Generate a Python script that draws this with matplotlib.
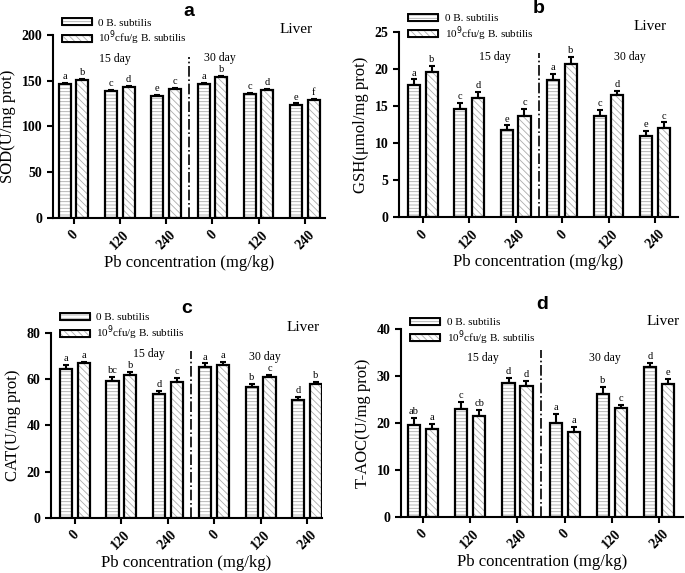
import matplotlib
matplotlib.use("Agg")
import matplotlib.pyplot as plt
from matplotlib.patches import Patch
import numpy as np

plt.rcParams['font.family'] = ['Liberation Serif', 'DejaVu Serif']
plt.rcParams['hatch.linewidth'] = 0.6

# ---- data ----
doses = ['0', '120', '240', '0', '120', '240']
series_names = ['0 B. subtilis', r'10$^{9}$cfu/g B. subtilis']

sod_ctrl = [146, 139, 133, 146, 135, 123]
sod_ctrl_err = [1.5, 1.0, 1.5, 1.5, 1.5, 2.0]
sod_bs = [151, 143, 141, 154, 140, 129]
sod_bs_err = [1.0, 1.2, 1.0, 1.0, 1.0, 1.0]
sod_letters = [['a', 'c', 'e', 'a', 'c', 'e'], ['b', 'd', 'c', 'b', 'd', 'f']]

gsh_ctrl = [17.8, 14.6, 11.8, 18.5, 13.6, 11.0]
gsh_ctrl_err = [0.8, 0.8, 0.6, 0.9, 0.9, 0.7]
gsh_bs = [19.6, 16.1, 13.7, 20.7, 16.5, 12.1]
gsh_bs_err = [0.8, 0.8, 0.9, 1.0, 0.6, 0.7]
gsh_letters = [['a', 'c', 'e', 'a', 'c', 'e'], ['b', 'd', 'c', 'b', 'd', 'c']]

cat_ctrl = [64.6, 59.4, 53.5, 65.3, 56.8, 51.0]
cat_ctrl_err = [1.4, 1.5, 1.3, 1.5, 1.0, 1.2]
cat_bs = [66.8, 61.8, 58.7, 66.3, 60.9, 58.0]
cat_bs_err = [0.8, 1.2, 2.0, 1.2, 1.0, 0.8]
cat_letters = [['a', 'bc', 'd', 'a', 'b', 'd'], ['a', 'b', 'c', 'a', 'c', 'b']]

taoc_ctrl = [19.6, 23.0, 28.4, 19.9, 26.2, 31.8]
taoc_ctrl_err = [1.4, 1.5, 1.2, 2.0, 1.4, 1.0]
taoc_bs = [18.8, 21.5, 27.9, 18.0, 23.1, 28.2]
taoc_bs_err = [1.0, 1.2, 1.0, 1.1, 0.7, 1.2]
taoc_letters = [['ab', 'c', 'd', 'a', 'b', 'd'], ['a', 'cb', 'd', 'a', 'c', 'e']]

panels = [
    dict(tag='a', ylabel='SOD(U/mg prot)', ctrl=sod_ctrl, ctrl_err=sod_ctrl_err, bs=sod_bs, bs_err=sod_bs_err,
         letters=sod_letters, ymax=200, ystep=50, rect=[0.077, 0.620, 0.397, 0.319], xlim=(-0.45, 5.43),
         divtop=176, day15=(0.9, 174), day30=(3.16, 175), liver=(0.956, 1.03), leg_y=1.012),
    dict(tag='b', ylabel='GSH(μmol/mg prot)', ctrl=gsh_ctrl, ctrl_err=gsh_ctrl_err, bs=gsh_bs, bs_err=gsh_bs_err,
         letters=gsh_letters, ymax=25, ystep=5, rect=[0.582, 0.621, 0.408, 0.323], xlim=(-0.52, 5.5),
         divtop=22.2, day15=(1.55, 21.6), day30=(4.46, 21.6), liver=(0.96, 1.03), leg_y=1.02),
    dict(tag='c', ylabel='CAT(U/mg prot)', ctrl=cat_ctrl, ctrl_err=cat_ctrl_err, bs=cat_bs, bs_err=cat_bs_err,
         letters=cat_letters, ymax=80, ystep=20, rect=[0.074, 0.096, 0.396, 0.323], xlim=(-0.52, 5.32),
         divtop=72, day15=(1.6, 71.0), day30=(4.1, 69.8), liver=(0.99, 1.03), leg_y=1.028),
    dict(tag='d', ylabel='T-AOC(U/mg prot)', ctrl=taoc_ctrl, ctrl_err=taoc_ctrl_err, bs=taoc_bs, bs_err=taoc_bs_err,
         letters=taoc_letters, ymax=40, ystep=10, rect=[0.585, 0.098, 0.412, 0.328], xlim=(-0.47, 5.5),
         divtop=35.5, day15=(1.27, 33.8), day30=(3.85, 33.8), liver=(0.99, 1.04), leg_y=0.982),
]

hatch_grey = '#ababab'
hatches = ['-----', '\\\\\\\\\\']

fig = plt.figure(figsize=(6.85, 5.73), dpi=100)

off = 0.19
w = 0.26
x = np.arange(len(doses))

for p in panels:
    ax = fig.add_axes(p['rect'])
    for k, (vals, errs) in enumerate([(p['ctrl'], p['ctrl_err']), (p['bs'], p['bs_err'])]):
        xs = x - off if k == 0 else x + off
        # hatch in grey, outline in black
        ax.bar(xs, vals, w, color='white', edgecolor=hatch_grey, hatch=hatches[k], linewidth=0, zorder=2)
        ax.bar(xs, vals, w, color='none', edgecolor='black', linewidth=1.6, zorder=3)
        ax.errorbar(xs, vals, yerr=[np.zeros(len(vals)), errs], fmt='none', ecolor='black',
                    elinewidth=1.5, capsize=2.5, capthick=1.5, zorder=1)
        for xi, v, e, lt in zip(xs, vals, errs, p['letters'][k]):
            ax.text(xi, v + e + p['ymax'] * 0.01, lt, ha='center', va='bottom', fontsize=7.5)

    handles = [Patch(facecolor='white', edgecolor=hatch_grey, hatch=hatches[0]),
               Patch(facecolor='white', edgecolor=hatch_grey, hatch=hatches[1])]
    outlines = [Patch(facecolor='none', edgecolor='black', linewidth=1.4),
                Patch(facecolor='none', edgecolor='black', linewidth=1.4)]
    ax.legend([(handles[0], outlines[0]), (handles[1], outlines[1])], series_names,
              loc='center left', bbox_to_anchor=(0.033, p['leg_y']), frameon=False,
              fontsize=8, handlelength=2.7, handleheight=0.6, labelspacing=0.12,
              handletextpad=0.6, borderpad=0, borderaxespad=0)

    ax.plot([2.5, 2.5], [0, p['divtop']], color='black', linestyle='-.', linewidth=1.2, zorder=1)
    ax.text(p['day15'][0], p['day15'][1], '15 day', ha='center', va='center', fontsize=8.5)
    ax.text(p['day30'][0], p['day30'][1], '30 day', ha='center', va='center', fontsize=8.5)
    ax.text(p['liver'][0], p['liver'][1], 'Liver', transform=ax.transAxes, ha='right', va='center',
            fontsize=11)

    ax.set_xlim(*p['xlim'])
    ax.set_ylim(0, p['ymax'])
    ax.set_yticks(np.arange(0, p['ymax'] + 1, p['ystep']))
    ax.set_xticks(x)
    ax.set_xticklabels(doses, rotation=45, ha='center', fontweight='bold', fontsize=10)
    for lab in ax.get_yticklabels():
        lab.set_fontweight('bold')
        lab.set_fontsize(10)
    ax.spines['top'].set_visible(False)
    ax.spines['right'].set_visible(False)
    ax.spines['left'].set_linewidth(1.5)
    ax.spines['bottom'].set_linewidth(1.5)
    ax.tick_params(width=1.5, length=4, direction='out')
    ax.set_ylabel(p['ylabel'], fontsize=12)
    ax.set_xlabel('Pb concentration (mg/kg)', fontsize=12, labelpad=2)
    ax.set_title(p['tag'], fontsize=14, fontweight='bold', family='Liberation Sans', pad=14)

fig.savefig('out.png', dpi=100)
